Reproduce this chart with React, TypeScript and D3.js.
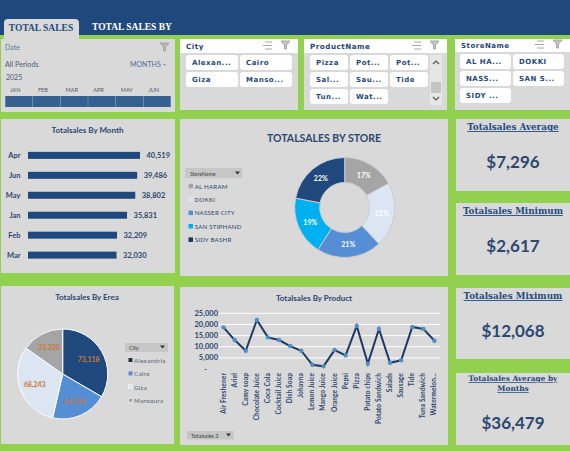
import * as d3 from 'd3';

const months = ['Apr', 'Jun', 'May', 'Jan', 'Feb', 'Mar'];
const monthSales = [40519, 39486, 38802, 35831, 32209, 32030];

const stores = ['AL HARAM', 'DOKKI', 'NASSER CITY', 'SAN STIPHAND', 'SIDY BASHR'];
const storeShare = [17, 21, 21, 19, 22];
const storeColors = ['#a5a5a5', '#dce6f2', '#558ed5', '#00b0f0', '#1f497d'];

const cities = ['Alexandria', 'Cairo', 'Giza', 'Mansoura'];
const citySales = [73118, 44196, 68243, 33320];
const cityColors = ['#1f497d', '#558ed5', '#dce6f2', '#a5a5a5'];

const products = ['Air Freshener', 'Ariel', 'Camy soap', 'Chocolate Juice', 'Coca Cola', 'Cocktail Juice', 'Dish Soap', 'Johayna', 'Lemon Juice', 'Mango Juice', 'Orange Juice', 'Pepsi', 'Pizza', 'Potato chips', 'Potato Sandwich', 'Salads', 'Sausage', 'Tide', 'Tuna Sandwich', 'Watermelon...'];
const productSales = [18700, 13000, 8200, 22000, 14200, 13000, 10300, 8200, 1900, 1200, 8500, 6100, 19300, 2400, 18000, 2800, 3900, 18900, 18000, 12700];
const productTicks = [0, 5000, 10000, 15000, 20000, 25000];

const timelineMonths = ['JAN', 'FEB', 'MAR', 'APR', 'MAY', 'JUN'];
const citySlicer = ['Alexan...', 'Cairo', 'Giza', 'Manso...'];
const productSlicer = ['Pizza', 'Pot...', 'Pot...', 'Sal...', 'Sau...', 'Tide', 'Tun...', 'Wat...'];
const storeSlicer = ['AL HA...', 'DOKKI', 'NASS...', 'SAN S...', 'SIDY ...'];

const kpiTitles = ['Totalsales Average', 'Totalsales Minimum', 'Totalsales Miximum'];
const kpiValues = ['$7,296', '$2,617', '$12,068'];
const kpiTops = [119, 203, 288];

const NAVY = '#1f497d';
const TEXT = '#2c4770';
const GREEN = '#92d050';
const PANEL = '#d9d9d9';
const SANS = 'Lato, "Open Sans", sans-serif';
const SERIF = '"Liberation Serif", serif';
const KPI_SERIF = '"DejaVu Serif", serif';
const SLICER = '"DejaVu Sans", sans-serif';
const fmt = d3.format(',');

function Panel({ x, y, w, h }: { x: number; y: number; w: number; h: number }) {
  return <rect x={x} y={y} width={w} height={h} fill={PANEL} />;
}

function Buttons({ labels, x0, y0, w, h, stepX, stepY, cols }: { labels: string[]; x0: number; y0: number; w: number; h: number; stepX: number; stepY: number; cols: number }) {
  return (
    <g>
      {labels.map((l, i) => {
        const x = x0 + (i % cols) * stepX;
        const y = y0 + Math.floor(i / cols) * stepY;
        return (
          <g key={i}>
            <rect x={x} y={y} width={w} height={h} rx={3} fill="#ffffff" />
            <text x={x + 6} y={y + h / 2 + 2.5} fontFamily={SLICER} fontWeight="bold" fontSize={7} letterSpacing={0.5} fill={NAVY}>{l}</text>
          </g>
        );
      })}
    </g>
  );
}

function FilterIcons({ x, y }: { x: number; y: number }) {
  return (
    <g stroke="#a8a8a8" strokeWidth={1} fill="none">
      <path d={`M${x + 2} ${y}h7M${x} ${y + 3.5}h9M${x + 2} ${y + 7}h7`} />
      <path d={`M${x + 18} ${y - 1}h9l-3.5 4v4h-2v-4z`} fill="#c4c4c4" />
    </g>
  );
}

function DateSlicer() {
  const x = d3.scaleBand().domain(timelineMonths).range([5, 171]).padding(0.01);
  return (
    <g>
      <Panel x={1} y={39} w={174} h={73} />
      <text x={5} y={49.5} fontFamily={SANS} fontSize={7} fill="#5f7391">Date</text>
      <path d="M160 43h9l-3.5 4v4h-2v-4z" fill="#b8b8b8" stroke="#9a9a9a" strokeWidth={0.7} />
      <text x={5} y={67} fontFamily={SANS} fontSize={7.2} fill="#4d5d75">All Periods</text>
      <text x={130} y={67} fontFamily={SANS} fontSize={7} fill="#4f6f9e">MONTHS</text>
      <path d="M163 64h3l-1.5 1.5z" fill="#8a8a8a" />
      <text x={6} y={80} fontFamily={SANS} fontSize={7} fill="#4d5d75">2025</text>
      {timelineMonths.map(m => (
        <g key={m}>
          <text x={x(m)! + 5} y={92} fontFamily={SANS} fontSize={5.6} fill="#4d5d75">{m}</text>
          <rect x={x(m)!} y={96} width={x.bandwidth()} height={11} fill="#35608f" />
        </g>
      ))}
    </g>
  );
}

function Slicers() {
  return (
    <g>
      <DateSlicer />
      <Panel x={180} y={39} w={118} h={71} />
      <rect x={180} y={39} width={118} height={14} fill="#ffffff" />
      <text x={186} y={49} fontFamily={SLICER} fontWeight="bold" fontSize={7.2} letterSpacing={0.5} fill={NAVY}>City</text>
      <FilterIcons x={263} y={42} />
      <Buttons labels={citySlicer} x0={186} y0={55} w={52} h={15} stepX={54} stepY={17} cols={2} />

      <Panel x={304} y={39} w={143} h={71} />
      <rect x={304} y={39} width={143} height={14} fill="#ffffff" />
      <text x={310} y={49} fontFamily={SLICER} fontWeight="bold" fontSize={7.2} letterSpacing={0.5} fill={NAVY}>ProductName</text>
      <FilterIcons x={412} y={42} />
      <Buttons labels={productSlicer} x0={310} y0={55} w={38} h={15} stepX={40} stepY={17} cols={3} />
      <rect x={430} y={55} width={12} height={50} fill="#e6e6e6" />
      <rect x={431} y={82} width={10} height={11} fill="#c4c4c4" />
      <path d="M433 64l3-3 3 3M433 97l3 3 3-3" stroke="#555555" strokeWidth={1.2} fill="none" />

      <Panel x={455} y={39} w={115} h={71} />
      <rect x={455} y={39} width={115} height={13} fill="#ffffff" />
      <text x={461} y={48} fontFamily={SLICER} fontWeight="bold" fontSize={7} letterSpacing={0.5} fill={NAVY}>StoreName</text>
      <FilterIcons x={535} y={41} />
      <Buttons labels={storeSlicer} x0={460} y0={54} w={51} h={15} stepX={53} stepY={17} cols={2} />
    </g>
  );
}

function MonthBars() {
  const x = d3.scaleLinear().domain([0, 40519]).range([28, 140]);
  const y = d3.scaleBand().domain(months).range([145.5, 265]).paddingInner(0.65).paddingOuter(0.32);
  return (
    <g>
      <Panel x={1} y={119} w={174} h={154} />
      <text x={87.5} y={133} textAnchor="middle" fontFamily={SANS} fontWeight="bold" fontSize={8} fill={TEXT}>Totalsales By Month</text>
      {months.map((m, i) => {
        const cy = y(m)! + y.bandwidth() / 2;
        return (
          <g key={m}>
            <text x={20.5} y={cy + 2.5} textAnchor="end" fontFamily={SANS} fontWeight="bold" fontSize={7.5} fill={TEXT}>{m}</text>
            <rect x={28} y={y(m)!} width={x(monthSales[i]) - 28} height={y.bandwidth()} fill={NAVY} />
            <text x={x(monthSales[i]) + 6.5} y={cy + 3} fontFamily={SANS} fontWeight="bold" fontSize={7.5} fill={TEXT}>{fmt(monthSales[i])}</text>
          </g>
        );
      })}
    </g>
  );
}

function StoreDonut() {
  const arcs = d3.pie<number>().sort(null)(storeShare);
  const arc = d3.arc<d3.PieArcDatum<number>>().innerRadius(25).outerRadius(50);
  return (
    <g>
      <Panel x={180} y={119} w={268} h={157} />
      <text x={324} y={141.5} textAnchor="middle" fontFamily={SANS} fontWeight="bold" fontSize={10.5} fill={TEXT}>TOTALSALES BY STORE</text>
      <rect x={185} y={168} width={57} height={10} fill="#c6c6c6" />
      <text x={190} y={175.5} fontFamily={SANS} fontSize={5.2} fill="#404040">StoreName</text>
      <path d="M235 171.5h5l-2.5 3z" fill="#333333" />
      {stores.map((s, i) => (
        <g key={s} transform={`translate(188.5,${183.8 + i * 13.4})`}>
          <rect x={0} y={0} width={4.5} height={4.5} fill={i === 4 ? '#17375e' : storeColors[i]} />
          <text x={6.2} y={4.8} fontFamily={SANS} fontSize={6.2} letterSpacing={0.2} fill={TEXT}>{s}</text>
        </g>
      ))}
      <g transform="translate(344.7,207.5)">
        {arcs.map((a, i) => (
          <path key={i} d={arc(a)!} fill={storeColors[i]} stroke="#c9ccd1" strokeWidth={1} />
        ))}
        {arcs.map((a, i) => {
          const [lx, ly] = arc.centroid(a);
          return <text key={i} x={lx} y={ly + 2.5} textAnchor="middle" fontFamily={SANS} fontWeight="bold" fontSize={7} fill="#ffffff">{storeShare[i]}%</text>;
        })}
      </g>
    </g>
  );
}

function CityPie() {
  const arcs = d3.pie<number>().sort(null)(citySales);
  const arc = d3.arc<d3.PieArcDatum<number>>().innerRadius(0).outerRadius(45);
  const label = d3.arc<d3.PieArcDatum<number>>().innerRadius(60).outerRadius(0);
  return (
    <g>
      <Panel x={1} y={286} w={173} h={158} />
      <text x={87} y={300} textAnchor="middle" fontFamily={SANS} fontWeight="bold" fontSize={8} fill={TEXT}>Totalsales By Erea</text>
      <g transform="translate(62.7,374)">
        {arcs.map((a, i) => (
          <path key={i} d={arc(a)!} fill={cityColors[i]} stroke="#ffffff" strokeWidth={1} />
        ))}
        {arcs.map((a, i) => {
          const [lx, ly] = label.centroid(a);
          return <text key={i} x={lx} y={ly + 2.5} textAnchor="middle" fontFamily={SANS} fontWeight="bold" fontSize={7} fill="#c9773a">{fmt(citySales[i])}</text>;
        })}
      </g>
      <rect x={125} y={343} width={43} height={9} fill="#c6c6c6" />
      <text x={129} y={350} fontFamily={SANS} fontSize={5.4} fill="#404040">City</text>
      <path d="M160 345.5h5l-2.5 3z" fill="#333333" />
      {cities.map((c, i) => (
        <g key={c} transform={`translate(128.5,${358 + i * 13.4})`}>
          <rect x={0} y={0} width={4} height={4} fill={i === 0 ? '#262f3d' : cityColors[i]} stroke={i > 1 ? '#ffffff' : 'none'} strokeWidth={0.5} />
          <text x={5.5} y={4.8} fontFamily={SANS} fontSize={6.2} letterSpacing={0.3} fill="#555f6e">{c}</text>
        </g>
      ))}
    </g>
  );
}

function ProductLine() {
  const x = d3.scaleBand().domain(products).range([218, 440]);
  const y = d3.scaleLinear().domain([0, 25000]).range([369, 313.3]);
  const px = (d: string) => x(d)! + x.bandwidth() / 2;
  const line = d3.line<number>().x((_, i) => px(products[i])).y(d => y(d));
  return (
    <g>
      <Panel x={180} y={287} w={268} h={158} />
      <text x={314} y={301} textAnchor="middle" fontFamily={SANS} fontWeight="bold" fontSize={8} fill={TEXT}>Totalsales By Product</text>
      {productTicks.map(t => (
        <g key={t}>
          {t > 0 && <line x1={218} x2={440} y1={y(t)} y2={y(t)} stroke="#ffffff" strokeWidth={1} />}
          <text x={t > 0 ? 218 : 207} y={y(t) + 2.5} textAnchor="end" fontFamily={SANS} fontWeight="bold" fontSize={7.5} fill={TEXT}>{t > 0 ? fmt(t) : '-'}</text>
        </g>
      ))}
      <path d={line(productSales)!} fill="none" stroke="#1f3864" strokeWidth={2} />
      {productSales.map((d, i) => (
        <circle key={i} cx={px(products[i])} cy={y(d)} r={2.2} fill="#4f8fc4" />
      ))}
      {products.map(p => (
        <text key={p} transform={`translate(${px(p) + 2},373) rotate(-90)`} textAnchor="end" fontFamily={SANS} fontWeight="bold" fontSize={6.6} letterSpacing={0.1} fill={TEXT}>{p}</text>
      ))}
      <rect x={187} y={431} width={47} height={8.5} fill="#c6c6c6" />
      <text x={191} y={437.5} fontFamily={SANS} fontSize={5.4} fill="#404040">Totalsales 3</text>
      <path d="M226 433.5h5l-2.5 3z" fill="#333333" />
    </g>
  );
}

function Kpi({ top, title, value, h }: { top: number; title: string; value: string; h: number }) {
  return (
    <g>
      <Panel x={456} y={top} w={114} h={h} />
      <text x={513} y={top + 11} textAnchor="middle" fontFamily={KPI_SERIF} fontWeight="bold" fontSize={8.8} textDecoration="underline" fill={NAVY}>{title}</text>
      <text x={513} y={top + 49} textAnchor="middle" fontFamily={SANS} fontWeight="bold" fontSize={17} fill={TEXT}>{value}</text>
    </g>
  );
}

export default function App() {
  return (
    <svg width={570} height={451} style={{ position: 'absolute', left: 0, top: 0, display: 'block' }}>
      <rect x={0} y={0} width={570} height={451} fill={GREEN} />
      <rect x={0} y={0} width={570} height={35} fill={NAVY} />
      <path d="M4 39V23a4 4 0 0 1 4-4h67a4 4 0 0 1 4 4v16z" fill={PANEL} />
      <text x={41} y={31} textAnchor="middle" fontFamily={SERIF} fontWeight="bold" fontSize={9.5} fill={NAVY}>TOTAL SALES</text>
      <text x={92} y={30} fontFamily={SERIF} fontWeight="bold" fontSize={9.5} fill="#ffffff">TOTAL SALES BY</text>
      <Slicers />
      <MonthBars />
      <StoreDonut />
      <CityPie />
      <ProductLine />
      {kpiTitles.map((t, i) => (
        <Kpi key={t} top={kpiTops[i]} title={t} value={kpiValues[i]} h={i === 2 ? 71 : 72} />
      ))}
      <Panel x={456} y={373} w={114} h={72} />
      <text x={513} y={381} textAnchor="middle" fontFamily={KPI_SERIF} fontWeight="bold" fontSize={7.4} textDecoration="underline" fill={NAVY}>Totalsales Average by</text>
      <text x={513} y={391} textAnchor="middle" fontFamily={KPI_SERIF} fontWeight="bold" fontSize={7.4} textDecoration="underline" fill={NAVY}>Months</text>
      <text x={513} y={429} textAnchor="middle" fontFamily={SANS} fontWeight="bold" fontSize={17} fill={TEXT}>$36,479</text>
    </svg>
  );
}
